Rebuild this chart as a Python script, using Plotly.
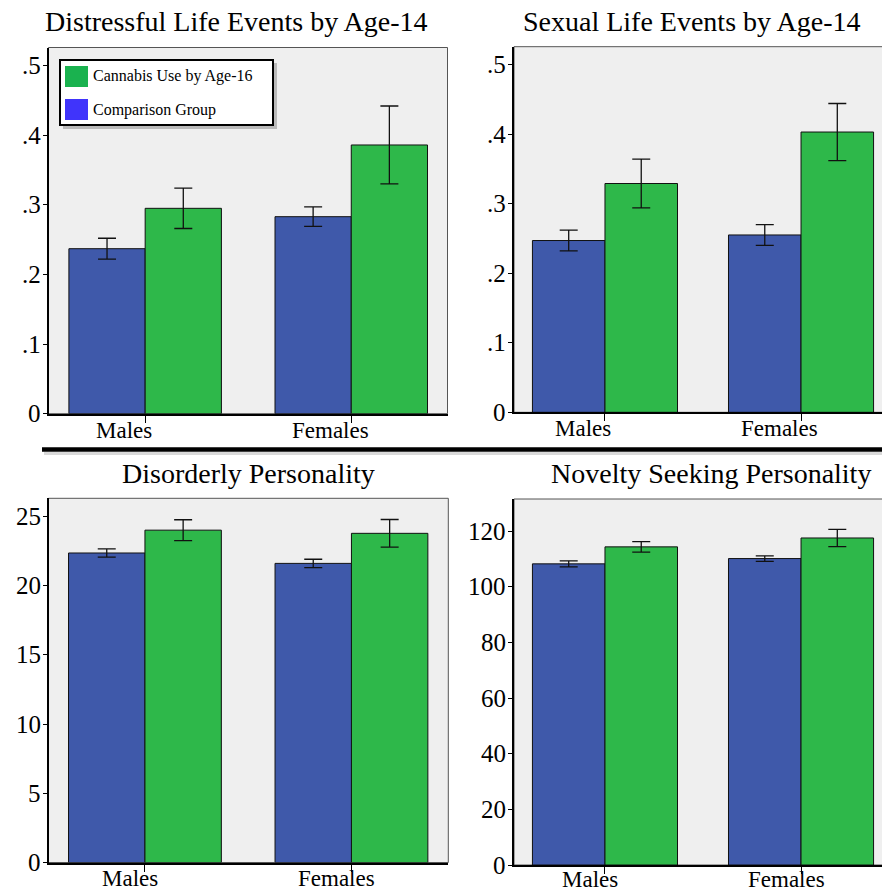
import plotly.graph_objects as go

W, H = 882, 892
FONT = "Liberation Serif"

groups = ["Males", "Females"]
group_pos = [0, 1]

# Distressful life events by age 14 (proportions)
distress_comp = [0.237, 0.283]
distress_comp_err = [0.015, 0.014]
distress_cann = [0.295, 0.386]
distress_cann_err = [0.029, 0.056]

# Sexual life events by age 14 (proportions)
sexual_comp = [0.247, 0.255]
sexual_comp_err = [0.015, 0.015]
sexual_cann = [0.329, 0.403]
sexual_cann_err = [0.035, 0.041]

# Disorderly personality scores
disorder_comp = [22.35, 21.6]
disorder_comp_err = [0.3, 0.3]
disorder_cann = [24.0, 23.77]
disorder_cann_err = [0.75, 1.0]

# Novelty seeking personality scores
novelty_comp = [108.2, 110.1]
novelty_comp_err = [1.1, 1.0]
novelty_cann = [114.3, 117.5]
novelty_cann_err = [1.9, 3.1]

prop_ticks = [0, 0.1, 0.2, 0.3, 0.4, 0.5]
prop_ticktext = ["0", ".1", ".2", ".3", ".4", ".5"]
disorder_ticks = [0, 5, 10, 15, 20, 25]
novelty_ticks = [0, 20, 40, 60, 80, 100, 120]

legend_labels = ["Cannabis Use by Age-16", "Comparison Group"]

BLUE = "#3f59aa"
GREEN = "#2eb84a"
LEG_GREEN = "#1ab24f"
LEG_BLUE = "#4034fb"


def px(x):
    return x / W


def py(y):
    return 1 - y / H


# pixel boxes: left, top, right, bottom
panels = [
    dict(title="Distressful Life Events by Age-14", tx=236, ty=22,
         box=(48.5, 47.5, 447.5, 413.7), yr=[0, 0.526], xr=[-0.469, 1.467],
         comp=distress_comp, comp_err=distress_comp_err,
         cann=distress_cann, cann_err=distress_cann_err,
         ticks=prop_ticks, ticktext=prop_ticktext, shift=-21, lab_dy=-3),
    dict(title="Sexual Life Events by Age-14", tx=691, ty=22,
         box=(514, 46.7, 882, 412.3), yr=[0, 0.5257], xr=[-0.464, 1.413],
         comp=sexual_comp, comp_err=sexual_comp_err,
         cann=sexual_cann, cann_err=sexual_cann_err,
         ticks=prop_ticks, ticktext=prop_ticktext, shift=-22, lab_dy=-3),
    dict(title="Disorderly Personality", tx=249, ty=473,
         box=(48.5, 498.3, 448.3, 862.5), yr=[0, 26.3], xr=[-0.467, 1.469],
         comp=disorder_comp, comp_err=disorder_comp_err,
         cann=disorder_cann, cann_err=disorder_cann_err,
         ticks=disorder_ticks, ticktext=[str(t) for t in disorder_ticks],
         shift=-15, lab_dy=-2),
    dict(title="Novelty Seeking Personality", tx=711, ty=473,
         box=(514, 499, 882, 865), yr=[0, 131.5], xr=[-0.464, 1.413],
         comp=novelty_comp, comp_err=novelty_comp_err,
         cann=novelty_cann, cann_err=novelty_cann_err,
         ticks=novelty_ticks, ticktext=[str(t) for t in novelty_ticks],
         shift=-15, lab_dy=-1),
]

fig = go.Figure()
shapes = []
annotations = []
layout_axes = {}

for i, p in enumerate(panels, start=1):
    sfx = "" if i == 1 else str(i)
    xa, ya = "x" + sfx, "y" + sfx
    l, t, r, b = p["box"]
    for vals, errs, col in ((p["comp"], p["comp_err"], BLUE),
                            (p["cann"], p["cann_err"], GREEN)):
        fig.add_trace(go.Bar(
            x=group_pos, y=vals, xaxis=xa, yaxis=ya,
            marker=dict(color=col, line=dict(color="#111111", width=1)),
            error_y=dict(type="data", array=errs, visible=True,
                         color="#111111", thickness=1.3, width=9),
            showlegend=False, hoverinfo="skip",
        ))
    layout_axes["xaxis" + sfx] = dict(
        domain=[px(l), min(px(r), 1.0)], anchor=ya, range=p["xr"],
        tickvals=group_pos, ticks="outside", ticklen=7, tickwidth=1,
        tickcolor="black", showticklabels=False, showline=True,
        linecolor="black", linewidth=2, showgrid=False, zeroline=False,
        automargin=False, fixedrange=True,
    )
    layout_axes["yaxis" + sfx] = dict(
        domain=[py(b), py(t)], anchor=xa, range=p["yr"],
        tickvals=p["ticks"], ticks="outside", ticklen=4, tickwidth=1,
        tickcolor="black", showticklabels=False, showline=True,
        linecolor="black", linewidth=1.5, showgrid=False, zeroline=False,
        automargin=False, fixedrange=True,
    )
    # category labels under the x axis
    for gx, gname in zip(group_pos, groups):
        annotations.append(dict(
            text=gname, x=gx, xref=xa, y=0, yref=ya + " domain",
            xanchor="center", yanchor="top", xshift=p["shift"],
            yshift=p["lab_dy"], showarrow=False, borderpad=0,
            font=dict(family=FONT, size=23, color="black")))
    # value labels beside the y axis
    for tv, tt in zip(p["ticks"], p["ticktext"]):
        annotations.append(dict(
            text=tt, x=0, xref=xa + " domain", y=tv, yref=ya,
            xanchor="right", yanchor="middle", xshift=-6, yshift=0,
            showarrow=False,
            font=dict(family=FONT, size=25, color="black")))
    # frame around the plotting area
    shapes.append(dict(type="rect", xref="paper", yref="paper",
                       x0=px(l), x1=px(r + (2 if r >= W else 0)),
                       y0=py(b), y1=py(t),
                       line=dict(color="#555555", width=1), layer="below"))
    annotations.append(dict(text=p["title"], x=px(p["tx"]), y=py(p["ty"]),
                            xref="paper", yref="paper", showarrow=False,
                            xanchor="center", yanchor="middle",
                            font=dict(family=FONT, size=28, color="black")))

# separator between the two rows
shapes.append(dict(type="line", xref="paper", yref="paper",
                   x0=px(44), x1=1.0, y0=py(453.5), y1=py(453.5),
                   line=dict(color="rgba(0,0,0,0.15)", width=3)))
shapes.append(dict(type="line", xref="paper", yref="paper",
                   x0=px(42), x1=1.0, y0=py(449.5), y1=py(449.5),
                   line=dict(color="black", width=4.5)))

# legend box drawn in the first panel
shapes.append(dict(type="rect", xref="paper", yref="paper",
                   x0=px(63), x1=px(277), y0=py(129), y1=py(63),
                   fillcolor="rgba(0,0,0,0.22)", line=dict(width=0)))
shapes.append(dict(type="rect", xref="paper", yref="paper",
                   x0=px(60), x1=px(273), y0=py(125), y1=py(60),
                   fillcolor="white", line=dict(color="black", width=2)))
for (y0, y1), col, label in (((66, 87), LEG_GREEN, legend_labels[0]),
                             ((99, 120), LEG_BLUE, legend_labels[1])):
    shapes.append(dict(type="rect", xref="paper", yref="paper",
                       x0=px(65), x1=px(88), y0=py(y1), y1=py(y0),
                       fillcolor=col, line=dict(width=0)))
    annotations.append(dict(text=label, x=px(91), y=py((y0 + y1) / 2),
                            xref="paper", yref="paper", showarrow=False,
                            xanchor="left", yanchor="middle",
                            font=dict(family=FONT, size=16, color="black")))

fig.update_layout(
    width=W, height=H, margin=dict(l=0, r=0, t=0, b=0, autoexpand=False),
    paper_bgcolor="white", plot_bgcolor="#efefef",
    font=dict(family=FONT, color="black"),
    barmode="group", bargap=0.26, bargroupgap=0,
    showlegend=False, shapes=shapes, annotations=annotations,
    **layout_axes,
)

fig.write_html("out.html")
